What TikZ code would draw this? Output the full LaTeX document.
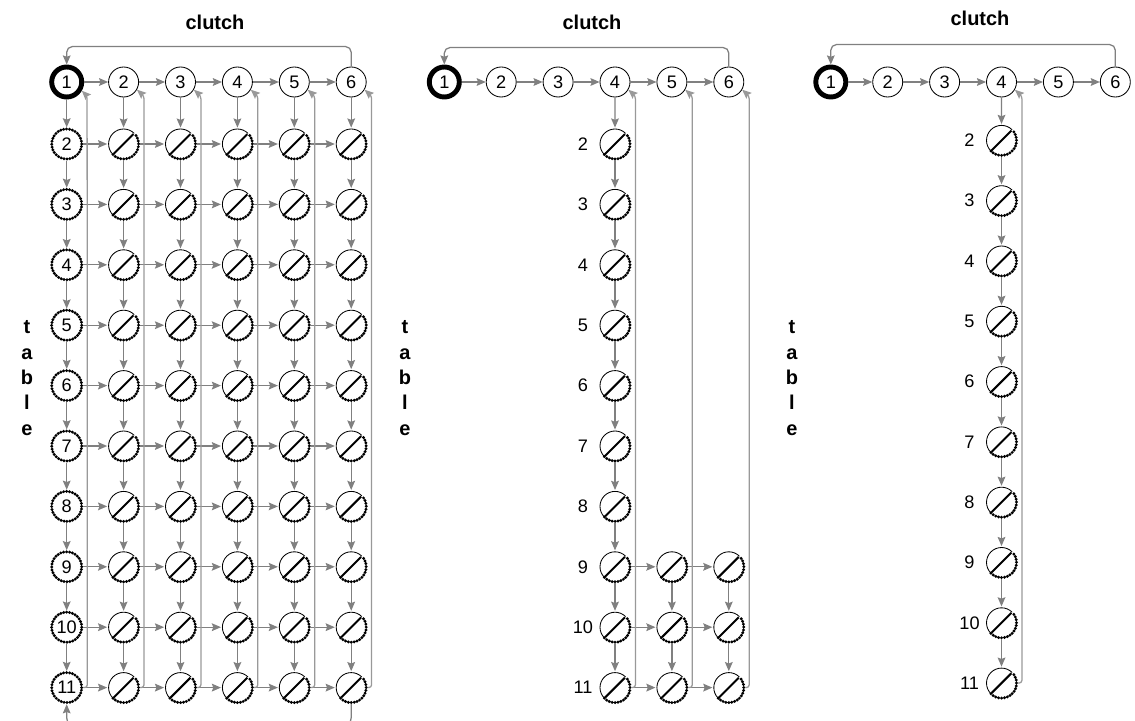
\documentclass[tikz,border=0pt]{standalone}
\usepackage{fontspec}
\setmainfont{Liberation Sans}
\usetikzlibrary{arrows.meta,positioning}

% slot node: thin upper rim, dotted lower rim, slash
\newcommand{\slotnode}[2]{%
  \node[slot] (#1) at (#2) {};
  \draw[rimthin] (#1.center) ++(45:15) arc (45:225:15);
  \draw[rimdots] (#1.center) ++(225:15) arc (225:405:15);
  \draw[slash] (#1.center) ++(225:14) -- ++(45:28);
}

\begin{document}
\begin{tikzpicture}[x=0.025cm, y=0.025cm, line join=round,
  >={Stealth[length=6.5pt,width=5.5pt,inset=1pt]},
  num/.style={font=\fontsize{12.9}{15}\selectfont},
  clutchnode/.style={circle, draw, line width=0.6pt, minimum size=0.75cm, inner sep=0pt, num},
  firstnode/.style={clutchnode, line width=3.5pt},
  tablenode/.style={circle, draw, line width=2.3pt, line cap=round, dash pattern=on 0pt off 2.1pt,
    minimum size=0.75cm, inner sep=0pt, num},
  slot/.style={circle, minimum size=0.75cm, inner sep=0pt, outer sep=1pt},
  rimthin/.style={line width=0.6pt},
  rimdots/.style={line width=2.3pt, line cap=round, dash pattern=on 0pt off 2.1pt},
  slash/.style={line width=1.4pt},
  link/.style={->, draw=black!50, line width=0.9pt},
  back/.style={->, draw=black!40, line width=0.9pt, rounded corners=2pt},
  loopline/.style={->, draw=black!50, line width=0.9pt, rounded corners=4pt},
  title/.style={font=\fontsize{14.2}{16}\selectfont\bfseries},
  side/.style={font=\fontsize{14.2}{18}\selectfont\bfseries, align=center},
  rowlab/.style={num, inner sep=0pt}]
% ---------- parameters ----------
\def\colstep{56.9}   % column pitch (px)
\def\rowstep{60.4}   % row pitch (px)

\useasboundingbox (0,0) rectangle (1135,-721);

% ---------- panel A: full table ----------
\node[firstnode] (A-c1) at (66.7,-82) {1};
\foreach \j in {2,...,6}
  \node[clutchnode] (A-c\j) at ({66.7+(\j-1)*\colstep},-82) {\j};
\foreach \r in {2,...,11} {
  \pgfmathsetmacro\y{-144-(\r-2)*\rowstep}
  \node[tablenode] (A-t\r) at (66.7,\y) {\r};
  \foreach \j in {2,...,6} {
    \slotnode{A-\r-\j}{{66.7+(\j-1)*\colstep},\y}
  }
}

% chains
\foreach \j [evaluate=\j as \k using int(\j+1)] in {1,...,5}
  \draw[link] (A-c\j) -- (A-c\k);
\draw[link] (A-c1) -- (A-t2);
\foreach \j in {2,...,6}
  \draw[link] (A-c\j) -- (A-2-\j);
\foreach \r [evaluate=\r as \s using int(\r+1)] in {2,...,10} {
  \draw[link] (A-t\r) -- (A-t\s);
  \foreach \j in {2,...,6}
    \draw[link] (A-\r-\j) -- (A-\s-\j);
}
\foreach \r in {2,...,11} {
  \draw[link] (A-t\r) -- (A-\r-2);
  \foreach \j [evaluate=\j as \k using int(\j+1)] in {2,...,5}
    \draw[link] (A-\r-\j) -- (A-\r-\k);
}

% returns to the clutch row
\draw[back] (A-t11.east) -- ++(4,0) -- ([shift={(20.4,-14)}]A-c1.center) -- (A-c1.-30);
\foreach \j in {2,...,6}
  \draw[back] (A-11-\j.east) -- ++(4,0) -- ([shift={(20.4,-14)}]A-c\j.center) -- (A-c\j.-30);
\draw[loopline] (A-c6.north) -- ++(0,20) -| (A-c1.north);
\begin{scope}
  \clip (0,0) rectangle (1135,-721);
  \draw[loopline, rounded corners=6pt] (A-11-6.south) -- ++(0,-22) -| (A-t11.south);
\end{scope}

\node[title] (A-title) at (215,-22) {clutch};
\node[side] (A-side) at (27,-378) {t\\a\\b\\l\\e};

% ---------- panel B: three columns ----------
\node[firstnode] (B-c1) at (444.3,-82) {1};
\foreach \j in {2,...,6}
  \node[clutchnode] (B-c\j) at ({444.3+(\j-1)*\colstep},-82) {\j};
\foreach \r in {2,...,11} {
  \pgfmathsetmacro\y{-144-(\r-2)*\rowstep}
  \slotnode{B-\r-4}{615,\y}
  \node[rowlab] (B-l\r) at ([xshift=-0.8cm]B-\r-4.center) {\r};
}
\foreach \r in {9,10,11} {
  \pgfmathsetmacro\y{-144-(\r-2)*\rowstep}
  \slotnode{B-\r-5}{671.9,\y}
  \slotnode{B-\r-6}{728.8,\y}
}

\foreach \j [evaluate=\j as \k using int(\j+1)] in {1,...,5}
  \draw[link] (B-c\j) -- (B-c\k);
\draw[link] (B-c4) -- (B-2-4);
\foreach \r [evaluate=\r as \s using int(\r+1)] in {2,...,10}
  \draw[link] (B-\r-4) -- (B-\s-4);
\foreach \j in {5,6} {
  \draw[link] (B-9-\j) -- (B-10-\j);
  \draw[link] (B-10-\j) -- (B-11-\j);
}
\foreach \r in {9,10,11} {
  \draw[link] (B-\r-4) -- (B-\r-5);
  \draw[link] (B-\r-5) -- (B-\r-6);
}

\foreach \j in {4,5,6}
  \draw[back] (B-11-\j.east) -- ++(4,0) -- ([shift={(20.4,-14)}]B-c\j.center) -- (B-c\j.-30);
\draw[loopline] (B-c6.north) -- ++(0,19) -| (B-c1.north);

\node[title] (B-title) at (592,-22) {clutch};
\node[side] (B-side) at (405,-378) {t\\a\\b\\l\\e};

% ---------- panel C: one column ----------
\node[firstnode] (C-c1) at (830.8,-82) {1};
\foreach \j in {2,...,6}
  \node[clutchnode] (C-c\j) at ({830.8+(\j-1)*\colstep},-82) {\j};
\foreach \r in {2,...,11} {
  \pgfmathsetmacro\y{-140.4-(\r-2)*60.3}
  \slotnode{C-\r-4}{1001.5,\y}
  \node[rowlab] (C-l\r) at ([xshift=-0.8cm]C-\r-4.center) {\r};
}

\foreach \j [evaluate=\j as \k using int(\j+1)] in {1,...,5}
  \draw[link] (C-c\j) -- (C-c\k);
\draw[link] (C-c4) -- (C-2-4);
\foreach \r [evaluate=\r as \s using int(\r+1)] in {2,...,10}
  \draw[link] (C-\r-4) -- (C-\s-4);

\draw[back] (C-11-4.east) -- ++(4,0) -- ([shift={(20.4,-14)}]C-c4.center) -- (C-c4.-30);
\draw[loopline] (C-c6.north) -- ++(0,22) -| (C-c1.north);

\node[title] (C-title) at (980,-18) {clutch};
\node[side] (C-side) at (792,-378) {t\\a\\b\\l\\e};

\end{tikzpicture}
\end{document}
